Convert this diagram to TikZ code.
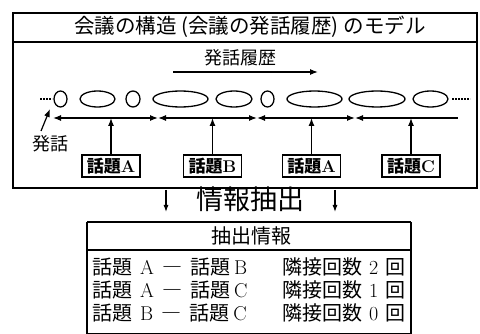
\documentclass[tikz,border=0pt]{standalone}
\usepackage{fontspec}
\newfontfamily\jp{Noto Sans CJK JP}
\usetikzlibrary{arrows.meta,shapes.geometric}
\begin{document}
\begin{tikzpicture}[x=1pt,y=-1pt,
  frame/.style={line width=1.1pt},
  oval/.style={ellipse, draw, line width=1.3pt, inner sep=0pt, minimum height=16pt},
  topic/.style={draw, line width=1.4pt, inner sep=0pt, minimum width=58pt, minimum height=22pt, font=\fontsize{17}{17}\selectfont},
  arr/.style={-{Latex[length=8pt,width=6pt]}, line width=1.2pt},
  seg/.style={{Latex[length=8pt,width=6pt]}-{Latex[length=8pt,width=6pt]}, line width=1.2pt},
  dots/.style={line width=1.4pt, dash pattern=on 1.6pt off 1.4pt},
  jtext/.style={inner sep=0pt, font=\jp\fontsize{#1}{#1}\selectfont},
]
\useasboundingbox (0,0) rectangle (480,334);
% top box
\draw[frame] (13,13) rectangle (477,188);
\draw[line width=1.4pt] (13,42) -- (477,42);
\node[jtext=20.5] (title) at (250,27) {会議の構造 (会議の発話履歴) のモデル};
% history arrow
\node[jtext=18] (hist) at (240,58) {発話履歴};
\coordinate (h0) at (173,72);
\coordinate (h1) at (318,72);
\draw[arr] (h0) -- (h1);
% utterances
\coordinate (dl0) at (40,99);
\coordinate (dl1) at (52,99);
\draw[dots] (dl0) -- (dl1);
\node[oval, minimum width=13pt] (e1) at (60.5,99) {};
\node[oval, minimum width=35pt] (e2) at (97.5,99) {};
\node[oval, minimum width=14pt] (e3) at (133,99) {};
\node[oval, minimum width=55pt] (e4) at (180.5,99) {};
\node[oval, minimum width=36pt] (e5) at (234,99) {};
\node[oval, minimum width=13pt] (e6) at (267.5,99) {};
\node[oval, minimum width=55pt] (e7) at (314.5,99) {};
\node[oval, minimum width=56pt] (e8) at (377,99) {};
\node[oval, minimum width=35pt] (e9) at (430.5,99) {};
\coordinate (dr0) at (452,99);
\coordinate (dr1) at (470,99);
\draw[dots] (dr0) -- (dr1);
% topic segments
\coordinate (t0) at (53,118);
\coordinate (t1) at (158,118);
\coordinate (t2) at (257,118);
\coordinate (t3) at (355,118);
\coordinate (t4) at (458,118);
\draw[seg] (t0) -- (t1);
\draw[seg] (t1) -- (t2);
\draw[seg] (t2) -- (t3);
\draw[{Latex[length=8pt,width=6pt]}-, line width=1.2pt] (t3) -- (t4);
% utterance label
\node[jtext=18] (utt) at (50,144) {発話};
\coordinate (p0) at (41,131);
\coordinate (p1) at (50,109);
\draw[arr] (p0) -- (p1);
% topic boxes
\node[topic] (ta1) at (111,166) {{\jp\bfseries 話題}\textbf{A}};
\node[topic] (tb) at (212.5,166) {{\jp\bfseries 話題}\textbf{B}};
\node[topic] (ta2) at (311.5,166) {{\jp\bfseries 話題}\textbf{A}};
\node[topic] (tc) at (411,166) {{\jp\bfseries 話題}\textbf{C}};
\draw[arr] (ta1.north) -- (ta1.north |- t0);
\draw[arr] (tb.north) -- (tb.north |- t0);
\draw[arr] (ta2.north) -- (ta2.north |- t0);
\draw[arr] (tc.north) -- (tc.north |- t0);
% extraction
\node[jtext=27] (ext) at (250,199) {情報抽出};
\coordinate (a0) at (166,190);
\coordinate (a1) at (166,212);
\coordinate (b0) at (335,190);
\coordinate (b1) at (335,212);
\draw[-{Latex[length=7pt,width=5pt]}, line width=1.1pt] (a0) -- (a1);
\draw[-{Latex[length=7pt,width=5pt]}, line width=1.1pt] (b0) -- (b1);
% table
\draw[line width=1.4pt] (87,222) -- (411,222);
\draw[line width=1.4pt] (87,250) -- (411,250);
\draw[frame] (87,222) -- (87,334);
\draw[frame] (411,222) -- (411,334);
\draw[frame] (87,333.5) -- (411,333.5);
\node[jtext=20] (head) at (251,236) {抽出情報};
\begin{scope}[every node/.style={anchor=west, inner sep=0pt, font=\fontsize{20}{20}\selectfont}]
\node (r1l) at (92,267) {{\jp 話題}\hspace{0.4em}A\hspace{0.4em}{\jp ―}\hspace{0.4em}{\jp 話題}\hspace{0.2em}B};
\node (r2l) at (92,290) {{\jp 話題}\hspace{0.4em}A\hspace{0.4em}{\jp ―}\hspace{0.4em}{\jp 話題}\hspace{0.2em}C};
\node (r3l) at (92,313) {{\jp 話題}\hspace{0.4em}B\hspace{0.4em}{\jp ―}\hspace{0.4em}{\jp 話題}\hspace{0.2em}C};
\node (r1r) at (282,267) {{\jp 隣接回数}\hspace{0.35em}2\hspace{0.35em}{\jp 回}};
\node (r2r) at (282,290) {{\jp 隣接回数}\hspace{0.35em}1\hspace{0.35em}{\jp 回}};
\node (r3r) at (282,313) {{\jp 隣接回数}\hspace{0.35em}0\hspace{0.35em}{\jp 回}};
\end{scope}
\end{tikzpicture}
\end{document}
